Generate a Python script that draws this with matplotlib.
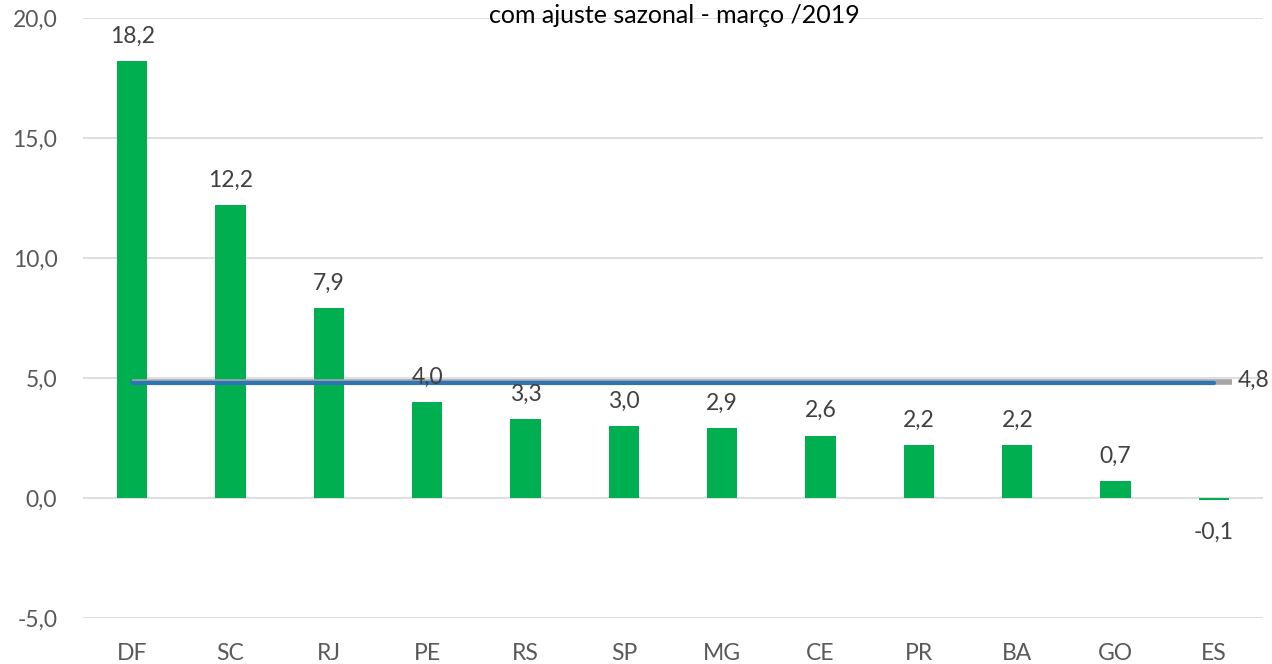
import matplotlib.pyplot as plt

plt.rcParams['font.family'] = ['Lato', 'DejaVu Sans']

states = ['DF', 'SC', 'RJ', 'PE', 'RS', 'SP', 'MG', 'CE', 'PR', 'BA', 'GO', 'ES']
values = [18.2, 12.2, 7.9, 4.0, 3.3, 3.0, 2.9, 2.6, 2.2, 2.2, 0.7, -0.1]
brasil = 4.8


def fmt(v):
    return f"{v:.1f}".replace('.', ',')


fig = plt.figure(figsize=(12.72, 6.64), dpi=100)
ax = fig.add_axes([0.0653, 0.0693, 0.9277, 0.9036])

x = list(range(len(states)))
ax.bar(x, values, width=0.31, color='#00b050', zorder=2)

# average line (gray shadow + blue)
ax.plot([x[0], x[-1] + 0.18], [brasil + 0.04, brasil + 0.04], color='#a6a6a6', lw=4, zorder=3,
        solid_capstyle='butt')
ax.plot([x[0], x[-1]], [brasil, brasil], color='#2e75b6', lw=3, zorder=4, solid_capstyle='round')
ax.text(x[-1] + 0.24, brasil + 0.1, fmt(brasil), ha='left', va='center', fontsize=16.5,
        color='#404040')

for xi, v in zip(x, values):
    if v >= 0:
        ax.text(xi, v + 0.6, fmt(v), ha='center', va='bottom', fontsize=16.5, color='#404040', zorder=5)
    else:
        ax.text(xi, v - 0.9, fmt(v), ha='center', va='top', fontsize=16.5, color='#404040', zorder=5)

ax.set_xlim(-0.5, len(states) - 0.5)
ax.set_ylim(-5, 20)
ax.set_yticks([-5, 0, 5, 10, 15, 20])
ax.set_yticklabels([fmt(t) for t in [-5, 0, 5, 10, 15, 20]])
ax.set_xticks(x)
ax.set_xticklabels(states)
ax.tick_params(axis='both', length=0, labelsize=16.5, labelcolor='#595959')
ax.tick_params(axis='y', pad=18.5)
ax.tick_params(axis='x', pad=18)
ax.grid(axis='y', color='#d9d9d9', lw=1.2, zorder=0)
for s in ax.spines.values():
    s.set_visible(False)

fig.text(0.53, 0.977, 'com ajuste sazonal - março /2019', ha='center', va='center',
         fontsize=18, color='#000000')

fig.savefig('out.png', dpi=100)
